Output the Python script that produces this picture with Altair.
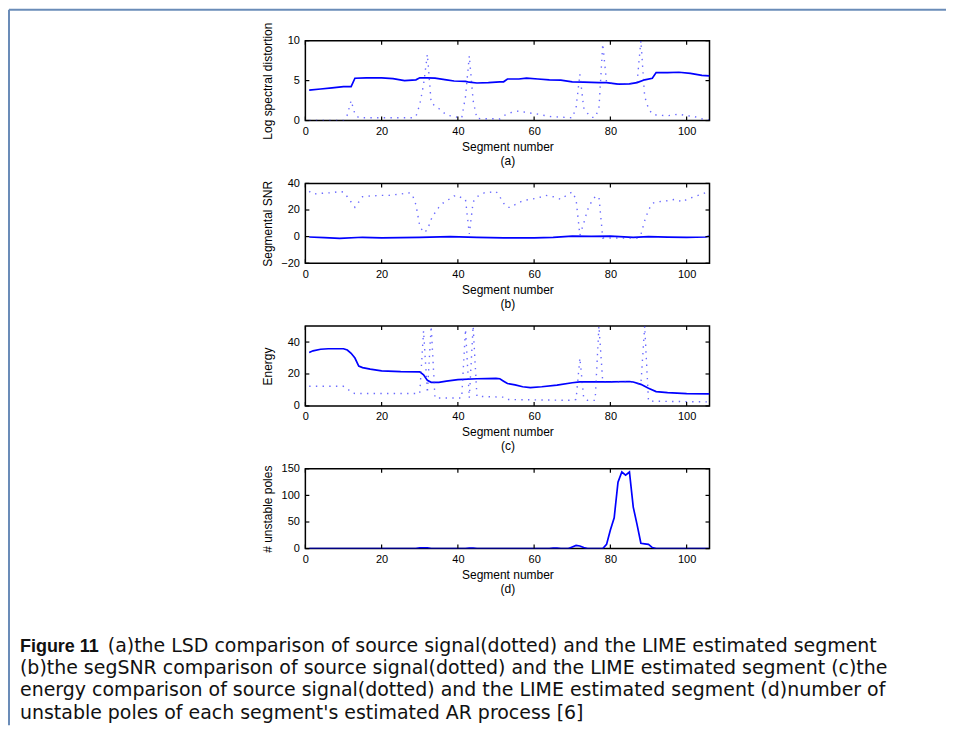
import altair as alt
import pandas as pd

# ---------------- data ----------------
x_ticks = [0, 20, 40, 60, 80, 100]

# (a) log spectral distortion
a_solid_x = [1, 4, 7, 10, 12, 13, 16, 20, 23, 26, 29, 30, 32, 34, 37, 39, 42, 43, 45, 48,
             51, 52, 53, 56, 58, 61, 64, 67, 70, 73, 77, 79, 82, 85, 87, 89, 91, 92, 95, 98,
             101, 104, 106]
a_solid_y = [3.8, 3.95, 4.1, 4.25, 4.25, 5.3, 5.35, 5.35, 5.25, 5.0, 5.1, 5.35, 5.35, 5.3, 5.1,
             4.95, 4.9, 4.8, 4.7, 4.75, 4.85, 4.85, 5.2, 5.2, 5.3, 5.2, 5.1, 5.05, 4.85, 4.8,
             4.75, 4.75, 4.55, 4.6, 4.75, 5.1, 5.3, 6.0, 6.0, 6.05, 5.9, 5.65, 5.6]
a_dot_x = [1, 10, 11, 12, 13, 14, 28, 29, 30, 31, 32, 33, 35, 37, 39, 41, 42, 43, 44, 45,
           51, 52, 54, 56, 58, 61, 64, 68, 70, 71, 72, 73, 74, 75, 76, 77, 78, 79, 82, 85,
           87, 88, 89, 90, 91, 92, 95, 98, 100, 102, 104, 106]
a_dot_y = [0, 0, 0.7, 2.5, 0.8, 0.35, 0.35, 0.5, 2.0, 4.5, 8.3, 2.2, 1.5, 0.7, 0.5, 0.3, 3.0,
           8.1, 2.5, 0.25, 0.2, 0.6, 1.0, 1.2, 1.0, 0.8, 0.5, 0.4, 0.35, 1.6, 5.8, 1.6, 0.9,
           0.4, 0.4, 1.5, 9.6, 4.75, 4.55, 4.6, 4.75, 10.0, 3.0, 1.5, 0.8, 0.7, 0.6, 0.8, 0.6,
           0.5, 0.2, 0.05]
a_y_ticks = [0, 5, 10]

# (b) segmental SNR
b_solid_x = [1, 5, 9, 15, 20, 25, 30, 38, 45, 52, 60, 65, 70, 75, 80, 86, 90, 95, 100, 105, 106]
b_solid_y = [-0.3, -0.8, -1.3, -0.5, -1.0, -0.8, -0.6, 0.0, -0.5, -1.0, -1.0, -0.6, 0.3, 0.2,
             0.3, -0.5, 0.0, -0.4, -0.6, -0.3, 0.5]
b_dot_x = [1, 2, 4, 7, 9, 10, 11, 12, 13, 14, 15, 17, 20, 22, 25, 27, 28, 29, 30, 31,
           32, 33, 34, 35, 36, 37, 38, 39, 40, 41, 42, 43, 44, 45, 47, 49, 50, 51, 52, 53,
           54, 55, 57, 59, 61, 63, 65, 67, 69, 70, 71, 72, 73, 74, 75, 76, 77, 78, 79, 87,
           88, 89, 90, 91, 92, 95, 97, 99, 100, 102, 104, 105, 106]
b_dot_y = [34, 32, 32.5, 33, 34, 33.5, 30, 26, 22, 26, 30, 30.5, 31, 31, 32, 33, 32, 24, 8, 3,
           5, 13, 18, 22, 25, 27, 28.5, 30.5, 31, 29, 28, 2, 26, 30, 33, 33.5, 34, 30, 25, 22,
           22, 24, 27, 28, 29, 31, 30, 28, 32, 33.5, 28, 1, 10, 20, 26, 30, 30, -1, -1, -1,
           1.5, 12, 20, 25, 26, 27, 28, 26, 28, 30, 32, 33, 34]
b_y_ticks = [-20, 0, 20, 40]

# (c) energy
c_solid_x = [1, 2, 4, 6, 10, 11, 12, 13, 14, 15, 17, 20, 25, 30, 31, 32, 33, 35, 37, 40,
             45, 50, 51, 52, 53, 55, 57, 59, 62, 66, 70, 72, 75, 80, 85, 86, 88, 90, 92, 95,
             100, 106]
c_solid_y = [33.5, 34.5, 35.5, 35.8, 35.8, 35, 33, 30, 25, 24, 23, 22, 21.5, 21.3, 19.5, 16,
             14.8, 14.8, 15.5, 16.5, 17, 17.2, 17, 15.5, 14, 13.2, 12, 11.5, 12, 13, 14.5, 15,
             15, 15, 15.3, 15, 13.5, 11, 9, 8.3, 7.7, 7.5]
c_dot_x = [1, 10, 11, 12, 13, 30, 31, 32, 33, 34, 41, 42, 43, 44, 45, 52, 53, 70, 71, 72,
           73, 74, 76, 77, 78, 80, 85, 88, 89, 90, 106]
c_dot_y = [12.3, 12.3, 11, 8.5, 7.8, 7.8, 47, 8, 50, 5, 5, 48, 5, 50, 6, 5.5, 4, 3.5, 4, 30,
           5, 3.5, 3.5, 50, 15, 15, 15.3, 13.5, 50, 3, 2.5]
c_y_ticks = [0, 20, 40]

# (d) number of unstable poles
d_solid_x = [1, 29, 30, 32, 33, 42, 43, 44, 45, 64, 65, 66, 67, 69, 70, 71, 72, 73, 74, 78,
             79, 80, 81, 82, 83, 84, 85, 86, 87, 88, 89, 90, 91, 92, 106]
d_solid_y = [0, 0, 1.5, 1.5, 0, 0, 1, 1, 0, 0, 1, 1, 0, 0, 3, 6, 5, 2, 0, 0,
             8, 35, 58, 125, 144, 138, 144, 78, 45, 10, 9, 8, 2, 0, 0]
d_y_ticks = [0, 50, 100, 150]

caption_bold = "Figure 11"
caption_lines = [
    "(a)the LSD comparison of source signal(dotted) and the LIME estimated segment",
    "(b)the segSNR comparison of source signal(dotted) and the LIME estimated segment (c)the",
    "energy comparison of source signal(dotted) and the LIME estimated segment (d)number of",
    "unstable poles of each segment's estimated AR process [6]",
]

# ---------------- styling ----------------
W, H = 405, 80
FONT = "Liberation Sans"
BLUE = "#0000ff"
TICK = 4


def panel(sx, sy, dx, dy, ydom, yticks, ytitle, letter):
    xs = alt.Scale(domain=[0, 106], nice=False, zero=False)
    ys = alt.Scale(domain=ydom, nice=False, zero=False)
    xaxis = alt.Axis(values=x_ticks, format="d", ticks=False, tickSize=0, domain=False,
                     grid=False, labelPadding=5, labelFlush=False, labelFont=FONT,
                     labelFontSize=11, labelColor="black",
                     title=["Segment number", f"({letter})"],
                     titleFont=FONT, titleFontSize=12, titleFontWeight="normal",
                     titleColor="black", titlePadding=5, titleLineHeight=14)
    yaxis = alt.Axis(values=yticks, format="d", ticks=False, tickSize=0, domain=False,
                     grid=False, labelPadding=6, labelFlush=False, labelFont=FONT,
                     labelFontSize=11, labelColor="black", title=ytitle, titleFont=FONT,
                     titleFontSize=12, titleFontWeight="normal", titleColor="black",
                     titleX=-31, titleY=H / 2, titleAngle=270, titleBaseline="bottom",
                     titleAlign="center")
    X = lambda f: alt.X(f, scale=xs, axis=xaxis)
    Y = lambda f: alt.Y(f, scale=ys, axis=yaxis)
    layers = []
    solid = alt.Chart(pd.DataFrame({"x": sx, "y": sy})).mark_line(
        color=BLUE, strokeWidth=1.7, clip=True
    ).encode(x=X("x:Q"), y=Y("y:Q"))
    layers.append(solid)
    if dx is not None:
        dotted = alt.Chart(pd.DataFrame({"x": dx, "y": dy})).mark_line(
            color="#2a2aff", strokeWidth=1.4, strokeDash=[1.4, 5.3], opacity=0.7, clip=True
        ).encode(x=X("x:Q"), y=Y("y:Q"))
        layers.append(dotted)
    xt = pd.DataFrame({"x": x_ticks})
    yt = pd.DataFrame({"y": yticks})
    layers.append(alt.Chart(xt).mark_rule(color="black", strokeWidth=1.2).encode(
        x=X("x:Q"), y=alt.value(0), y2=alt.value(TICK)))
    layers.append(alt.Chart(xt).mark_rule(color="black", strokeWidth=1.2).encode(
        x=X("x:Q"), y=alt.value(H), y2=alt.value(H - TICK)))
    layers.append(alt.Chart(yt).mark_rule(color="black", strokeWidth=1.2).encode(
        y=Y("y:Q"), x=alt.value(0), x2=alt.value(TICK)))
    layers.append(alt.Chart(yt).mark_rule(color="black", strokeWidth=1.2).encode(
        y=Y("y:Q"), x=alt.value(W), x2=alt.value(W - TICK)))
    return alt.layer(*layers).properties(width=W, height=H)


pa = panel(a_solid_x, a_solid_y, a_dot_x, a_dot_y, [0, 10], a_y_ticks, "Log spectral distortion", "a")
pb = panel(b_solid_x, b_solid_y, b_dot_x, b_dot_y, [-20, 40], b_y_ticks, "Segmental SNR", "b")
pc = panel(c_solid_x, c_solid_y, c_dot_x, c_dot_y, [0, 50], c_y_ticks, "Energy", "c")
pd_ = panel(d_solid_x, d_solid_y, None, None, [0, 150], d_y_ticks, "# unstable poles", "d")

# ---------------- caption + frame ----------------
CAP_FONT = "DejaVu Sans"
CAP_SIZE = 19
one = pd.DataFrame({"a": [0]})
cap_layers = []
cap_layers.append(alt.Chart(pd.DataFrame({"t": [caption_bold]})).mark_text(
    font="Liberation Sans", fontSize=18, fontWeight="bold", align="left",
    baseline="alphabetic", color="#111111").encode(text="t:N", x=alt.value(-286), y=alt.value(41)))
cap_pos = [(-198, 41), (-286, 63), (-286, 85), (-286, 108)]
for line, (px, py) in zip(caption_lines, cap_pos):
    cap_layers.append(alt.Chart(pd.DataFrame({"t": [line]})).mark_text(
        font=CAP_FONT, fontSize=CAP_SIZE, align="left", baseline="alphabetic",
        color="#111111").encode(text="t:N", x=alt.value(px), y=alt.value(py)))
FRAME = "#6a8cb8"
cap_layers.append(alt.Chart(one).mark_rule(color=FRAME, strokeWidth=2).encode(
    x=alt.value(-297), x2=alt.value(642), y=alt.value(-603)))
cap_layers.append(alt.Chart(one).mark_rule(color=FRAME, strokeWidth=2).encode(
    x=alt.value(-297), y=alt.value(-603), y2=alt.value(114)))
caption = alt.layer(*cap_layers).properties(
    width=W, height=100, view=alt.ViewBackground(strokeOpacity=0))

chart = alt.vconcat(pa, pb, pc, pd_, caption, spacing=63, bounds="flush").properties(
    padding=0, background="white"
).configure_view(stroke="black", strokeWidth=1.5)

chart.save("out.html", embed_options={"renderer": "svg", "actions": False})
